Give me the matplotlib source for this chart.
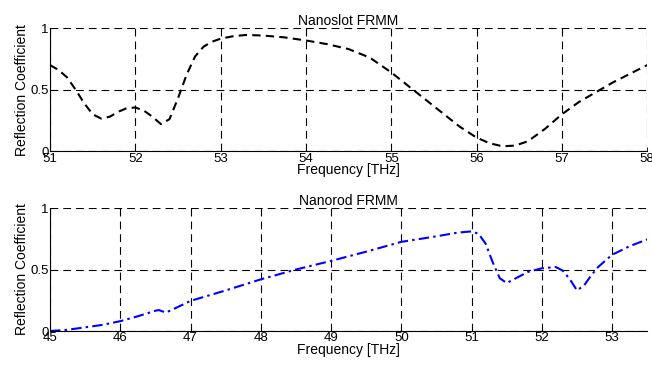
import matplotlib
matplotlib.use("Agg")
import matplotlib.pyplot as plt

plt.rcParams['font.family'] = ['Liberation Sans', 'DejaVu Sans']

slot_freq = [51.0, 51.1, 51.2, 51.3, 51.4, 51.5, 51.6, 51.7, 51.8, 51.9, 52.0, 52.1, 52.2, 52.3, 52.4, 52.5, 52.6, 52.7, 52.8, 52.9, 53.0, 53.15, 53.3, 53.5, 53.75, 54.0, 54.25, 54.5, 54.75, 55.0, 55.2, 55.4, 55.6, 55.8, 56.0, 56.15, 56.3, 56.45, 56.6, 56.8, 57.0, 57.2, 57.4, 57.6, 57.8, 58.0]
slot_refl = [0.70, 0.66, 0.60, 0.50, 0.39, 0.30, 0.265, 0.28, 0.32, 0.35, 0.355, 0.33, 0.28, 0.22, 0.26, 0.43, 0.62, 0.77, 0.85, 0.89, 0.915, 0.935, 0.945, 0.94, 0.925, 0.90, 0.87, 0.83, 0.76, 0.64, 0.53, 0.42, 0.31, 0.20, 0.11, 0.065, 0.04, 0.045, 0.08, 0.18, 0.30, 0.40, 0.48, 0.56, 0.63, 0.70]

rod_freq = [45.0, 45.25, 45.5, 45.75, 46.0, 46.25, 46.5, 46.55, 46.65, 46.8, 47.0, 47.5, 48.0, 48.5, 49.0, 49.5, 50.0, 50.5, 50.8, 51.0, 51.1, 51.2, 51.3, 51.4, 51.5, 51.6, 51.8, 52.0, 52.2, 52.3, 52.4, 52.5, 52.6, 52.7, 52.8, 53.0, 53.25, 53.5]
rod_refl = [0.0, 0.01, 0.03, 0.05, 0.08, 0.12, 0.165, 0.17, 0.15, 0.19, 0.245, 0.33, 0.42, 0.50, 0.57, 0.645, 0.725, 0.77, 0.80, 0.81, 0.79, 0.71, 0.56, 0.43, 0.39, 0.42, 0.48, 0.51, 0.52, 0.49, 0.42, 0.33, 0.37, 0.45, 0.52, 0.62, 0.69, 0.745]

fig = plt.figure(figsize=(6.52, 3.66), dpi=100)
ax1 = fig.add_axes([0.0767, 0.587, 0.916, 0.336])
ax2 = fig.add_axes([0.0767, 0.0956, 0.916, 0.336])

def style(ax, xlim, xticks, title):
    ax.set_xlim(*xlim)
    ax.set_ylim(0, 1)
    ax.set_xticks(xticks)
    ax.set_yticks([0, 0.5, 1])
    ax.set_yticklabels(['0', '0.5', '1'])
    ax.grid(True, color='black', linestyle=(0, (7, 4.5)), linewidth=0.8)
    ax.spines['top'].set_visible(False)
    ax.spines['right'].set_visible(False)
    ax.spines['left'].set_linewidth(0.8)
    ax.spines['bottom'].set_linewidth(0.8)
    ax.tick_params(direction='in', length=3, labelsize=9.5, pad=1, width=0.6)
    ax.set_xlabel('Frequency [THz]', fontsize=10, labelpad=-1)
    ax.set_ylabel('Reflection Coefficient', fontsize=10, labelpad=1)
    ax.set_title(title, fontsize=10, pad=2)

ax1.plot(slot_freq, slot_refl, color='black', linestyle=(0, (4, 2.5)), linewidth=1.5)
style(ax1, (51, 58), [51, 52, 53, 54, 55, 56, 57, 58], 'Nanoslot FRMM')

ax2.plot(rod_freq, rod_refl, color='blue', linestyle=(0, (5, 2, 1.2, 2)), linewidth=1.5)
style(ax2, (45, 53.5), [45, 46, 47, 48, 49, 50, 51, 52, 53], 'Nanorod FRMM')

fig.savefig('out.png', dpi=100)
